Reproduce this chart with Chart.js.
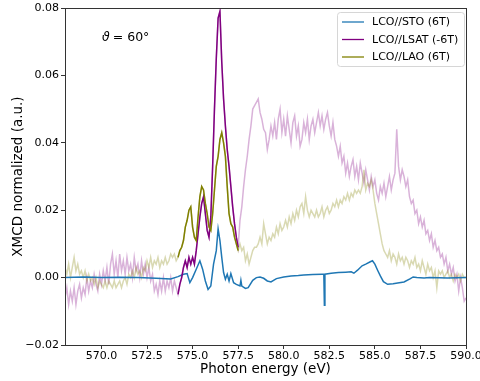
<!DOCTYPE html>
<html><head><meta charset="utf-8">
<script src="https://cdn.jsdelivr.net/npm/chart.js@4.4.0/dist/chart.umd.min.js"></script>
<style>html,body{margin:0;padding:0;background:#fff;} canvas{display:block;}</style>
</head><body>
<canvas id="c" width="480" height="381"></canvas>
<script>
// Photon energy grid (eV) shared by LSAT and LAO spectra
const energy = [
568.0,568.1,568.2,568.3,568.4,568.5,568.6,568.7,568.8,568.9,
569.0,569.1,569.2,569.3,569.4,569.5,569.6,569.7,569.8,569.9,
570.0,570.1,570.2,570.3,570.4,570.5,570.6,570.7,570.8,570.9,
571.0,571.1,571.2,571.3,571.4,571.5,571.6,571.7,571.8,571.9,
572.0,572.1,572.2,572.3,572.4,572.5,572.6,572.7,572.8,572.9,
573.0,573.1,573.2,573.3,573.4,573.5,573.6,573.7,573.8,573.9,
574.0,574.1,574.2,574.3,574.4,574.5,574.6,574.7,574.8,574.9,
575.0,575.1,575.2,575.3,575.4,575.5,575.6,575.7,575.8,575.9,
576.0,576.1,576.2,576.3,576.4,576.5,576.6,576.7,576.8,576.9,
577.0,577.1,577.2,577.3,577.4,577.5,577.6,577.7,577.8,577.9,
578.0,578.1,578.2,578.3,578.4,578.5,578.6,578.7,578.8,578.9,
579.0,579.1,579.2,579.3,579.4,579.5,579.6,579.7,579.8,579.9,
580.0,580.1,580.2,580.3,580.4,580.5,580.6,580.7,580.8,580.9,
581.0,581.1,581.2,581.3,581.4,581.5,581.6,581.7,581.8,581.9,
582.0,582.1,582.2,582.3,582.4,582.5,582.6,582.7,582.8,582.9,
583.0,583.1,583.2,583.3,583.4,583.5,583.6,583.7,583.8,583.9,
584.0,584.1,584.2,584.3,584.4,584.5,584.6,584.7,584.8,584.9,
585.0,585.1,585.2,585.3,585.4,585.5,585.6,585.7,585.8,585.9,
586.0,586.1,586.2,586.3,586.4,586.5,586.6,586.7,586.8,586.9,
587.0,587.1,587.2,587.3,587.4,587.5,587.6,587.7,587.8,587.9,
588.0,588.1,588.2,588.3,588.4,588.5,588.6,588.7,588.8,588.9,
589.0,589.1,589.2,589.3,589.4,589.5,589.6,589.7,589.8,589.9,
590.0
];
const lsatValues = [
-0.006,-0.003,-0.008,-0.004,-0.007,-0.003,-0.008,-0.004,-0.002,-0.006,
-0.003,-0.005,0.000,-0.004,-0.001,-0.003,0.001,-0.002,-0.004,0.001,
-0.002,0.002,-0.001,0.003,-0.002,0.004,0.007,0.001,0.005,0.000,
0.007,0.002,0.005,0.001,0.006,0.002,0.004,0.000,0.006,0.002,
0.004,0.000,0.005,0.001,0.004,0.000,0.003,-0.001,0.001,-0.004,
-0.002,-0.005,-0.001,-0.004,0.000,-0.004,-0.001,-0.003,0.000,-0.004,
-0.001,-0.003,-0.005,-0.002,0.000,0.003,0.005,0.003,0.006,0.004,
0.006,0.004,0.008,0.013,0.018,0.022,0.024,0.019,0.014,0.012,
0.018,0.033,0.050,0.065,0.077,0.079,0.064,0.053,0.045,0.038,
0.033,0.027,0.021,0.016,0.012,0.009,0.017,0.021,0.027,0.032,
0.036,0.041,0.045,0.050,0.051,0.052,0.053,0.049,0.047,0.044,
0.043,0.038,0.041,0.045,0.042,0.046,0.041,0.047,0.050,0.043,
0.047,0.042,0.048,0.044,0.040,0.046,0.048,0.042,0.045,0.039,
0.041,0.046,0.043,0.047,0.041,0.045,0.047,0.043,0.046,0.049,
0.045,0.048,0.044,0.047,0.049,0.045,0.042,0.046,0.041,0.039,
0.036,0.039,0.034,0.036,0.031,0.034,0.030,0.033,0.035,0.030,
0.033,0.029,0.034,0.031,0.028,0.032,0.029,0.026,0.030,0.027,
0.029,0.025,0.023,0.027,0.025,0.028,0.024,0.027,0.030,0.026,
0.029,0.031,0.044,0.033,0.029,0.032,0.030,0.027,0.029,0.024,
0.022,0.023,0.019,0.020,0.016,0.018,0.015,0.017,0.013,0.014,
0.011,0.013,0.009,0.011,0.008,0.009,0.006,0.007,0.004,0.006,
0.002,0.004,0.001,0.003,-0.001,0.001,-0.004,0.000,-0.003,-0.007,
-0.006
];
const laoValues = [
0.003,0.001,0.004,0.000,0.003,0.006,0.002,0.004,0.001,0.002,
0.000,0.002,-0.001,0.001,-0.001,0.000,-0.002,0.000,-0.003,-0.001,
-0.002,-0.003,-0.001,-0.003,-0.001,-0.002,-0.003,-0.001,-0.003,-0.002,
-0.001,-0.003,-0.001,0.000,-0.002,0.001,0.000,0.002,0.000,0.003,
0.001,0.002,0.000,0.003,0.002,0.005,0.003,0.006,0.003,0.005,
0.004,0.006,0.003,0.005,0.004,0.006,0.004,0.005,0.007,0.006,
0.007,0.005,0.006,0.008,0.009,0.011,0.015,0.017,0.020,0.021,
0.015,0.012,0.011,0.018,0.024,0.027,0.026,0.022,0.019,0.015,
0.014,0.019,0.026,0.033,0.036,0.041,0.043,0.040,0.036,0.027,
0.019,0.016,0.015,0.012,0.010,0.008,0.010,0.008,0.009,0.005,
0.007,0.004,0.006,0.008,0.009,0.009,0.010,0.012,0.010,0.016,
0.013,0.010,0.012,0.011,0.013,0.012,0.015,0.013,0.016,0.014,
0.015,0.017,0.015,0.018,0.016,0.019,0.017,0.020,0.018,0.021,
0.022,0.019,0.024,0.020,0.018,0.020,0.019,0.018,0.020,0.018,
0.019,0.021,0.018,0.020,0.021,0.019,0.020,0.022,0.021,0.023,
0.021,0.023,0.022,0.024,0.023,0.025,0.023,0.025,0.024,0.026,
0.025,0.026,0.025,0.027,0.032,0.026,0.028,0.027,0.029,0.026,
0.022,0.019,0.016,0.013,0.010,0.008,0.007,0.006,0.008,0.005,
0.007,0.006,0.004,0.007,0.005,0.006,0.004,0.006,0.005,0.003,
0.005,0.004,0.006,0.003,0.004,0.002,0.005,0.003,0.001,0.004,
0.002,0.003,0.000,0.002,-0.003,0.002,0.001,0.002,0.000,0.001,
0.002,0.000,0.001,-0.001,0.001,0.000,0.001,-0.001,0.001,0.000,
0.000
];
// STO spectrum (own energy sampling)
const stoEnergy = [
568.0,569.0,570.0,571.0,572.0,573.0,573.8,574.2,574.5,574.7,
574.85,575.0,575.2,575.4,575.55,575.7,575.85,576.0,576.15,576.3,
576.4,576.5,576.6,576.7,576.8,576.9,577.0,577.1,577.25,577.4,
577.6,577.65,577.7,577.9,578.05,578.3,578.5,578.7,578.9,579.1,
579.3,579.6,580.0,580.4,580.8,581.1,581.6,582.1,582.2,582.23,
582.26,582.6,583.0,583.4,583.7,583.85,584.05,584.3,584.5,584.75,
584.87,585.0,585.15,585.3,585.47,585.7,586.0,586.25,586.6,586.95,
587.1,587.3,587.7,588.0,589.0,590.0
];
const stoValues = [
0.0000,0.0002,0.0000,0.0001,0.0000,-0.0002,-0.0004,0.0003,0.0010,0.0012,
-0.0015,0.0000,0.0025,0.0050,0.0025,-0.0010,-0.0035,-0.0025,0.0040,0.0080,
0.0145,0.0110,0.0060,0.0015,-0.0005,0.0010,-0.0010,0.0012,-0.0015,-0.0020,
-0.0025,-0.0008,-0.0025,-0.0032,-0.0030,-0.0008,0.0000,0.0002,-0.0002,-0.0010,
-0.0013,-0.0003,0.0002,0.0005,0.0006,0.0008,0.0009,0.0010,0.0010,-0.0082,
0.0010,0.0013,0.0015,0.0016,0.0017,0.0013,0.0022,0.0035,0.0040,0.0047,
0.0050,0.0040,0.0022,0.0005,-0.0012,-0.0020,-0.0018,-0.0016,-0.0013,-0.0003,
0.0002,0.0000,-0.0001,0.0000,-0.0001,0.0000
];
const darkRange = [574.2, 577.5];
const xTicks = [570, 572.5, 575, 577.5, 580, 582.5, 585, 587.5, 590];
const yTicks = [-0.02, 0.00, 0.02, 0.04, 0.06, 0.08];
const seriesNames = ['LCO//STO (6T)', 'LCO//LSAT (-6T)', 'LCO//LAO (6T)'];
const seriesColors = ['#1f77b4', '#800080', '#808000'];

function pts(xs, ys) { return xs.map((x, i) => ({x: x, y: ys[i]})); }
function within(xs, ys, r) { return pts(xs, ys).filter(p => p.x >= r[0] - 1e-9 && p.x <= r[1] + 1e-9); }

const FONT = '"DejaVu Sans", "Liberation Sans", sans-serif';

const decor = {
  id: 'decor',
  afterDraw(chart) {
    const ctx = chart.ctx, a = chart.chartArea;
    ctx.save();
    ctx.strokeStyle = '#333';
    ctx.lineWidth = 1;
    ctx.strokeRect(Math.round(a.left) + 0.5, Math.round(a.top) + 0.5,
                   Math.round(a.right - a.left), Math.round(a.bottom - a.top));
    ctx.fillStyle = '#000';
    ctx.font = '13.5px ' + FONT;
    ctx.textAlign = 'center';
    ctx.textBaseline = 'middle';
    ctx.fillText('Photon energy (eV)', (a.left + a.right) / 2, 369);
    ctx.save();
    ctx.translate(18, (a.top + a.bottom) / 2);
    ctx.rotate(-Math.PI / 2);
    ctx.fillText('XMCD normalized (a.u.)', 0, 0);
    ctx.restore();
    ctx.textAlign = 'left';
    ctx.textBaseline = 'alphabetic';
    ctx.font = 'italic 12.5px ' + FONT;
    ctx.fillText('\u03D1', 102, 41);
    const w = ctx.measureText('\u03D1').width;
    ctx.font = '12.5px ' + FONT;
    ctx.fillText('= 60\u00B0', 102 + w + 3, 41);
    const bx = 337.5, by = 12.5, bw = 127, bh = 54, r = 3;
    ctx.beginPath();
    ctx.moveTo(bx + r, by);
    ctx.lineTo(bx + bw - r, by); ctx.quadraticCurveTo(bx + bw, by, bx + bw, by + r);
    ctx.lineTo(bx + bw, by + bh - r); ctx.quadraticCurveTo(bx + bw, by + bh, bx + bw - r, by + bh);
    ctx.lineTo(bx + r, by + bh); ctx.quadraticCurveTo(bx, by + bh, bx, by + bh - r);
    ctx.lineTo(bx, by + r); ctx.quadraticCurveTo(bx, by, bx + r, by);
    ctx.closePath();
    ctx.fillStyle = 'rgba(255,255,255,0.8)';
    ctx.fill();
    ctx.strokeStyle = '#d6d6d6';
    ctx.lineWidth = 1;
    ctx.stroke();
    const rows = [22, 39.5, 57];
    ctx.font = '11px ' + FONT;
    ctx.textBaseline = 'middle';
    for (let i = 0; i < 3; i++) {
      ctx.beginPath();
      ctx.strokeStyle = seriesColors[i];
      ctx.lineWidth = 1.3;
      ctx.moveTo(342, rows[i]); ctx.lineTo(364, rows[i]);
      ctx.stroke();
      ctx.fillStyle = '#000';
      ctx.fillText(seriesNames[i], 372, rows[i] + 0.5);
    }
    ctx.restore();
  }
};

const tickFont = {family: FONT, size: 11};
new Chart(document.getElementById('c'), {
  type: 'line',
  data: {
    datasets: [
      {label: 'LAO dark', data: within(energy, laoValues, darkRange), borderColor: seriesColors[2], borderWidth: 1.5, order: 0},
      {label: 'LSAT dark', data: within(energy, lsatValues, darkRange), borderColor: seriesColors[1], borderWidth: 1.5, order: 1},
      {label: seriesNames[0], data: pts(stoEnergy, stoValues), borderColor: seriesColors[0], borderWidth: 1.5, order: 2},
      {label: 'LAO light', data: pts(energy, laoValues), borderColor: 'rgba(128,128,0,0.3)', borderWidth: 1.5, order: 3},
      {label: 'LSAT light', data: pts(energy, lsatValues), borderColor: 'rgba(128,0,128,0.3)', borderWidth: 1.5, order: 4}
    ]
  },
  options: {
    responsive: false,
    animation: false,
    devicePixelRatio: 1,
    layout: {padding: {left: 0, right: 14, top: 8, bottom: 0}},
    elements: {point: {radius: 0}, line: {tension: 0, fill: false}},
    plugins: {legend: {display: false}, tooltip: {enabled: false}},
    scales: {
      x: {
        type: 'linear', min: 568, max: 590,
        afterBuildTicks(s) { s.ticks = xTicks.map(v => ({value: v})); },
        afterFit(s) { s.height = 36; s.paddingLeft = 0; s.paddingRight = 0; },
        ticks: {callback: v => Number(v).toFixed(1), font: tickFont, color: '#000', padding: 1, maxRotation: 0, autoSkip: false},
        grid: {drawOnChartArea: false, drawTicks: true, tickLength: 4, color: '#333'},
        border: {display: false}
      },
      y: {
        type: 'linear', min: -0.02, max: 0.08,
        afterBuildTicks(s) { s.ticks = yTicks.map(v => ({value: v})); },
        afterFit(s) { s.width = 65; s.paddingTop = 0; s.paddingBottom = 0; },
        ticks: {callback: v => (v < -1e-12 ? '\u2212' : '') + Math.abs(v).toFixed(2), font: tickFont, color: '#000', padding: 2, autoSkip: false},
        grid: {drawOnChartArea: false, drawTicks: true, tickLength: 4, color: '#333'},
        border: {display: false}
      }
    }
  },
  plugins: [decor]
});
</script>
</body></html>
